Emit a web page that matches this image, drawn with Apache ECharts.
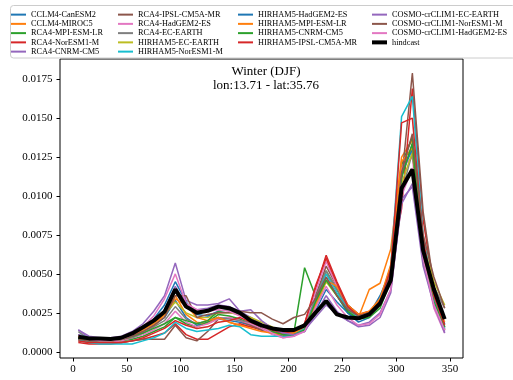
<!DOCTYPE html>
<html><head><meta charset="utf-8">
<script src="https://cdn.jsdelivr.net/npm/echarts@6/dist/echarts.min.js"></script>
<style>html,body{margin:0;padding:0;background:#fff}#c{width:513px;height:380px}</style>
</head><body><div id="c"></div>
<script>
const days = [5,15,25,35,45,55,65,75,85,95,105,115,125,135,145,155,165,175,185,195,205,215,225,235,245,255,265,275,285,295,305,315,325,335,345];
const xTicks = [0,50,100,150,200,250,300,350];
const yTicks = [0,0.0025,0.005,0.0075,0.01,0.0125,0.015,0.0175];
const names = ['CCLM4-CanESM2','CCLM4-MIROC5','RCA4-MPI-ESM-LR','RCA4-NorESM1-M','RCA4-CNRM-CM5',
 'RCA4-IPSL-CM5A-MR','RCA4-HadGEM2-ES','RCA4-EC-EARTH','HIRHAM5-EC-EARTH','HIRHAM5-NorESM1-M',
 'HIRHAM5-HadGEM2-ES','HIRHAM5-MPI-ESM-LR','HIRHAM5-CNRM-CM5','HIRHAM5-IPSL-CM5A-MR',
 'COSMO-crCLIM1-EC-EARTH','COSMO-crCLIM1-NorESM1-M','COSMO-crCLIM1-HadGEM2-ES','hindcast'];
const colors = ['#1f77b4','#ff7f0e','#2ca02c','#d62728','#9467bd','#8c564b','#e377c2','#7f7f7f','#bcbd22','#17becf',
 '#1f77b4','#ff7f0e','#2ca02c','#d62728','#9467bd','#8c564b','#e377c2','#000000'];

const cclmCan = [0.0011,0.0008,0.0007,0.0007,0.0008,0.0010,0.0013,0.0017,0.0022,0.0033,0.0022,0.0017,0.0019,0.0021,0.0020,0.0019,0.0017,0.0014,0.0012,0.0010,0.0010,0.0014,0.0030,0.0048,0.0036,0.0025,0.0019,0.0022,0.0030,0.0048,0.0112,0.0133,0.0060,0.0030,0.0018];
const cclmMiroc = [0.0009,0.0007,0.0007,0.0006,0.0007,0.0009,0.0012,0.0016,0.0024,0.0036,0.0024,0.0019,0.0018,0.0022,0.0019,0.0017,0.0016,0.0015,0.0013,0.0012,0.0012,0.0016,0.0034,0.0050,0.0040,0.0027,0.0022,0.0040,0.0044,0.0066,0.0125,0.0136,0.0058,0.0032,0.0016];
const rcaMpi = [0.0008,0.0006,0.0006,0.0006,0.0007,0.0008,0.0010,0.0013,0.0016,0.0022,0.0018,0.0016,0.0019,0.0024,0.0023,0.0021,0.0018,0.0015,0.0012,0.0011,0.0012,0.0054,0.0036,0.0052,0.0040,0.0028,0.0022,0.0024,0.0030,0.0050,0.0120,0.0138,0.0062,0.0034,0.0015];
const rcaNor = [0.0006,0.0005,0.0005,0.0005,0.0006,0.0007,0.0008,0.0010,0.0012,0.0018,0.0011,0.0008,0.0008,0.0012,0.0016,0.0018,0.0016,0.0014,0.0012,0.0011,0.0012,0.0018,0.0040,0.0062,0.0045,0.0030,0.0024,0.0026,0.0033,0.0055,0.0092,0.0169,0.0085,0.0040,0.0014];
const rcaCnrm = [0.0014,0.0009,0.0008,0.0008,0.0009,0.0011,0.0014,0.0019,0.0027,0.0042,0.0030,0.0027,0.0028,0.0030,0.0029,0.0026,0.0022,0.0018,0.0014,0.0012,0.0012,0.0014,0.0022,0.0030,0.0024,0.0020,0.0017,0.0019,0.0025,0.0040,0.0095,0.0108,0.0058,0.0032,0.0013];
const rcaIpsl = [0.0007,0.0006,0.0006,0.0006,0.0006,0.0007,0.0008,0.0008,0.0008,0.0017,0.0009,0.0007,0.0013,0.0021,0.0022,0.0020,0.0017,0.0014,0.0012,0.0011,0.0012,0.0016,0.0035,0.0055,0.0042,0.0030,0.0024,0.0025,0.0032,0.0050,0.0110,0.0179,0.0090,0.0042,0.0016];
const rcaHad = [0.0010,0.0007,0.0006,0.0006,0.0007,0.0009,0.0011,0.0014,0.0018,0.0026,0.0019,0.0016,0.0018,0.0021,0.0022,0.0020,0.0018,0.0015,0.0011,0.0009,0.0010,0.0015,0.0038,0.0058,0.0042,0.0028,0.0021,0.0023,0.0030,0.0052,0.0118,0.0125,0.0060,0.0028,0.0012];
const rcaEc = [0.0013,0.0008,0.0007,0.0007,0.0008,0.0009,0.0012,0.0016,0.0020,0.0029,0.0021,0.0018,0.0020,0.0022,0.0021,0.0020,0.0019,0.0016,0.0014,0.0012,0.0012,0.0015,0.0034,0.0052,0.0040,0.0028,0.0023,0.0025,0.0031,0.0048,0.0102,0.0128,0.0068,0.0042,0.0028];
const hirEc = [0.0009,0.0008,0.0007,0.0007,0.0008,0.0011,0.0015,0.0019,0.0024,0.0032,0.0025,0.0022,0.0022,0.0025,0.0025,0.0024,0.0022,0.0019,0.0016,0.0013,0.0012,0.0014,0.0028,0.0045,0.0036,0.0027,0.0022,0.0024,0.0030,0.0046,0.0108,0.0128,0.0070,0.0045,0.0030];
const hirNor = [0.0008,0.0006,0.0005,0.0005,0.0005,0.0005,0.0007,0.0009,0.0012,0.0019,0.0015,0.0013,0.0014,0.0015,0.0017,0.0016,0.0011,0.0010,0.0010,0.0010,0.0011,0.0015,0.0032,0.0050,0.0038,0.0027,0.0022,0.0024,0.0030,0.0055,0.0151,0.0164,0.0075,0.0035,0.0015];
const hirHad = [0.0011,0.0009,0.0008,0.0008,0.0009,0.0012,0.0016,0.0021,0.0030,0.0045,0.0032,0.0024,0.0023,0.0026,0.0027,0.0024,0.0020,0.0016,0.0013,0.0011,0.0011,0.0013,0.0026,0.0040,0.0032,0.0025,0.0021,0.0024,0.0036,0.0052,0.0115,0.0130,0.0063,0.0036,0.0018];
const hirMpi = [0.0010,0.0008,0.0007,0.0007,0.0008,0.0010,0.0014,0.0018,0.0024,0.0034,0.0030,0.0022,0.0020,0.0022,0.0019,0.0017,0.0015,0.0013,0.0012,0.0011,0.0012,0.0016,0.0030,0.0046,0.0042,0.0030,0.0024,0.0026,0.0034,0.0056,0.0122,0.0131,0.0064,0.0036,0.0019];
const hirCnrm = [0.0009,0.0007,0.0007,0.0007,0.0008,0.0010,0.0012,0.0015,0.0018,0.0022,0.0020,0.0018,0.0020,0.0026,0.0027,0.0024,0.0020,0.0016,0.0013,0.0011,0.0011,0.0014,0.0032,0.0046,0.0036,0.0026,0.0021,0.0022,0.0028,0.0046,0.0112,0.0134,0.0060,0.0032,0.0016];
const hirIpsl = [0.0007,0.0006,0.0006,0.0006,0.0006,0.0007,0.0009,0.0012,0.0015,0.0020,0.0017,0.0015,0.0016,0.0019,0.0020,0.0022,0.0019,0.0016,0.0014,0.0012,0.0013,0.0018,0.0042,0.0060,0.0044,0.0029,0.0023,0.0025,0.0032,0.0053,0.0147,0.0150,0.0072,0.0036,0.0017];
const cosmoEc = [0.0014,0.0010,0.0009,0.0009,0.0010,0.0013,0.0018,0.0026,0.0036,0.0057,0.0033,0.0030,0.0030,0.0031,0.0034,0.0026,0.0027,0.0020,0.0015,0.0012,0.0011,0.0013,0.0024,0.0036,0.0026,0.0020,0.0016,0.0017,0.0022,0.0038,0.0098,0.0106,0.0055,0.0030,0.0012];
const cosmoNor = [0.0008,0.0007,0.0007,0.0007,0.0008,0.0010,0.0013,0.0017,0.0022,0.0036,0.0036,0.0022,0.0024,0.0025,0.0025,0.0026,0.0025,0.0025,0.0021,0.0018,0.0022,0.0024,0.0034,0.0048,0.0036,0.0027,0.0023,0.0025,0.0032,0.0050,0.0115,0.0140,0.0075,0.0048,0.0028];
const cosmoHad = [0.0011,0.0008,0.0007,0.0007,0.0008,0.0011,0.0016,0.0023,0.0034,0.0050,0.0031,0.0027,0.0026,0.0027,0.0026,0.0023,0.0020,0.0016,0.0012,0.0009,0.0010,0.0013,0.0028,0.0042,0.0030,0.0022,0.0017,0.0018,0.0024,0.0040,0.0100,0.0118,0.0060,0.0030,0.0014];
const hindcast = [0.00096,0.00086,0.00085,0.00082,0.0009,0.00118,0.00157,0.0020,0.00257,0.00401,0.0029,0.0025,0.00263,0.0029,0.0028,0.0025,0.0020,0.0017,0.0015,0.0014,0.0014,0.0017,0.0025,0.00326,0.0024,0.0022,0.00215,0.0024,0.0031,0.0046,0.0105,0.0117,0.0065,0.0040,0.0021];

const values = [cclmCan,cclmMiroc,rcaMpi,rcaNor,rcaCnrm,rcaIpsl,rcaHad,rcaEc,hirEc,hirNor,hirHad,hirMpi,hirCnrm,hirIpsl,cosmoEc,cosmoNor,cosmoHad,hindcast];

const FONT = 'Liberation Serif';
const series = values.map((v,i)=>({
  name: names[i], type:'line', symbol:'none', animation:false,
  data: v.map((y,j)=>[days[j], y]),
  lineStyle:{color:colors[i], width: i===17?4:1.5},
  itemStyle:{color:colors[i]}, z: i===17?3:2
}));

const legendCols = [
  {left:11, top:10, items:names.slice(0,5), h:2},
  {left:118, top:10, items:names.slice(5,10), h:2},
  {left:238, top:10, items:names.slice(10,14), h:2},
  {left:372, top:10, items:names.slice(14,17), h:2},
  {left:372, top:10+3*9.25, items:names.slice(17), h:4}
];
const legend = legendCols.map(c=>({
  orient:'vertical', left:c.left, top:c.top, data:c.items, icon:'rect',
  itemWidth:15, itemHeight:c.h, itemGap:0, padding:0, z:6, selectedMode:false,
  textStyle:{fontFamily:FONT, fontSize:8.3, lineHeight:9.25, color:'#000', padding:[0,0,0,0]}
}));

const chart = echarts.init(document.getElementById('c'), null, {renderer:'canvas'});
chart.setOption({
  animation:false,
  backgroundColor:'#fff',
  title:{text:'Winter (DJF)\nlon:13.71 - lat:35.76', left:261, top:60, textAlign:'center',
    textStyle:{fontFamily:FONT, fontSize:13, fontWeight:'normal', color:'#000', lineHeight:13.5, align:'center'}},
  legend: legend,
  graphic:[{type:'rect', z:4, shape:{x:10.5, y:5.5, width:505, height:52.5, r:3},
    style:{fill:'rgba(255,255,255,0.85)', stroke:'#cccccc', lineWidth:1}}],
  grid:{left:60, right:50, top:59, bottom:22, show:true, borderColor:'#000', borderWidth:1, containLabel:false},
  xAxis:{type:'value', min:-12, max:362,
    axisLine:{show:false, onZero:false}, splitLine:{show:false},
    axisTick:{show:true, length:3.5, customValues:xTicks, lineStyle:{color:'#000'}},
    axisLabel:{customValues:xTicks, margin:6, fontFamily:FONT, fontSize:11, color:'#000'}},
  yAxis:{type:'value', min:-0.0004, max:0.0188,
    axisLine:{show:false, onZero:false}, splitLine:{show:false},
    axisTick:{show:true, length:3.5, customValues:yTicks, lineStyle:{color:'#000'}},
    axisLabel:{customValues:yTicks, margin:7.5, fontFamily:FONT, fontSize:11, color:'#000',
      formatter:v=>v.toFixed(4)}},
  series: series
});
</script></body></html>
